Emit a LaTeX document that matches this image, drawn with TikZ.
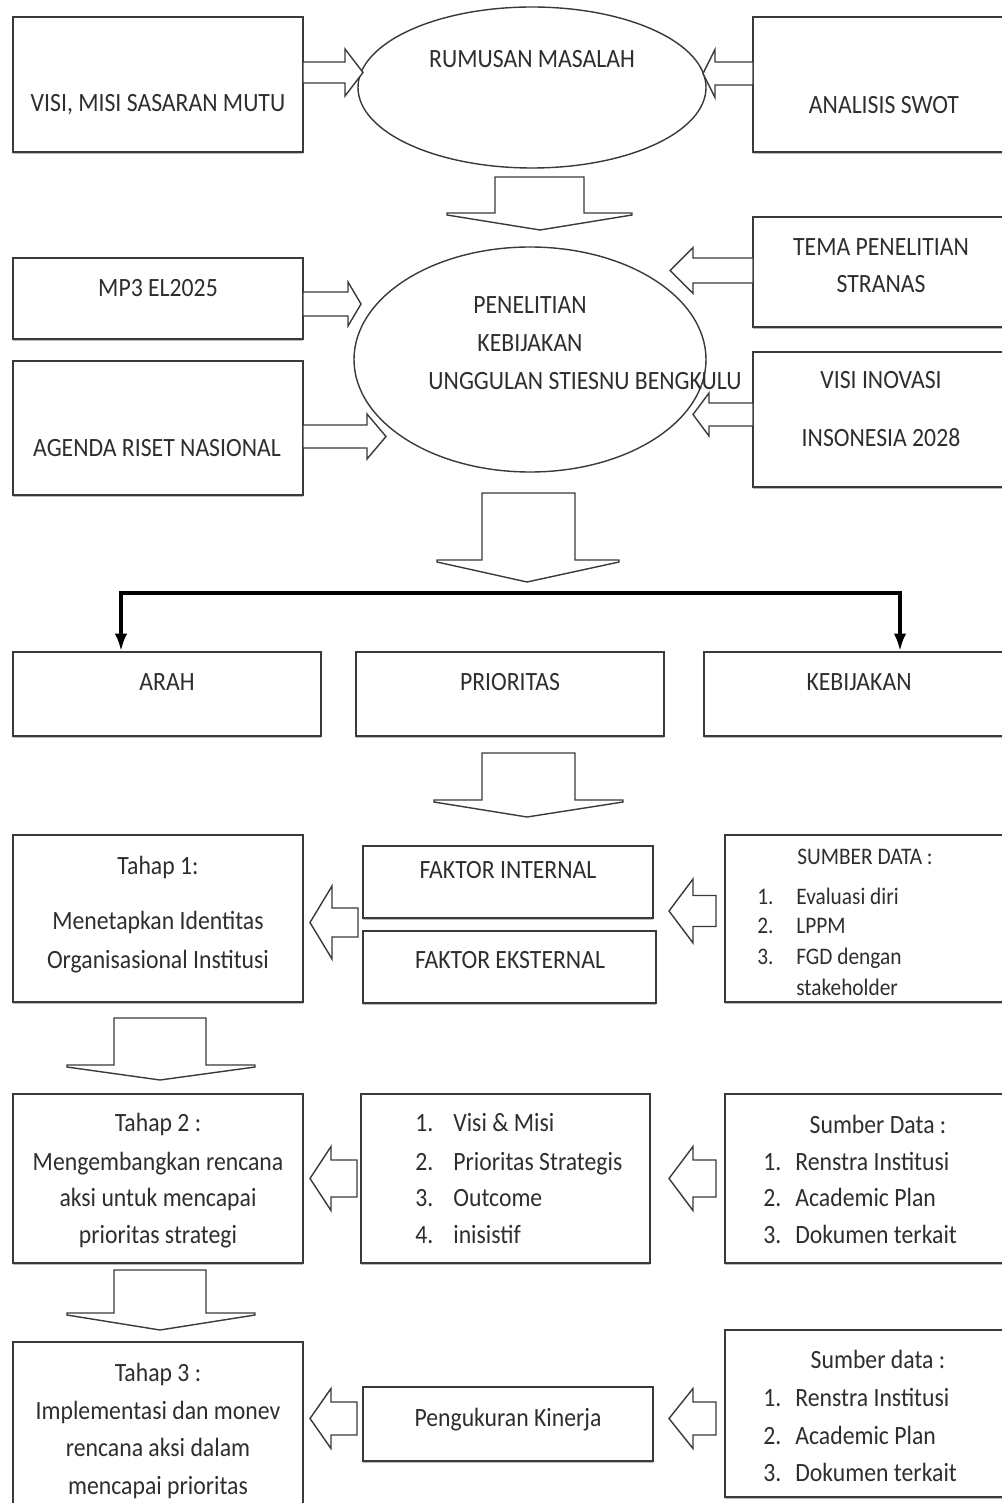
\documentclass[tikz,border=0pt]{standalone}
\usepackage{fontspec}
\setmainfont{Carlito}[FakeStretch=0.9]
\usetikzlibrary{arrows.meta,shapes.geometric,fit,shadows}
\definecolor{ln}{HTML}{3A3A3A}
\definecolor{tx}{HTML}{2E2E2E}
\tikzset{
  box/.style={draw=ln, line width=0.8pt, fill=white, inner sep=0pt,
    drop shadow={shadow xshift=0pt, shadow yshift=-1.3pt, opacity=0.55, fill=gray}},
  oval/.style={draw=ln, line width=0.8pt, fill=white, ellipse, inner sep=0pt},
  barrow/.style={draw=ln, line width=0.8pt, fill=white, line join=miter},
  txt/.style={font=\fontsize{15}{18}\selectfont, text=tx, inner sep=0pt},
  stxt/.style={font=\fontsize{13.5}{16}\selectfont, text=tx, inner sep=0pt},
  bracketline/.style={draw=black, line width=2.3pt, {Latex[length=10pt,width=7pt]}-{Latex[length=10pt,width=7pt]}}
}
\newcommand\blockH[6]{% tail, base, tip, cy, h, H
  \draw[barrow] (#1,#4-#5) -- (#2,#4-#5) -- (#2,#4-#6) -- (#3,#4) -- (#2,#4+#6) -- (#2,#4+#5) -- (#1,#4+#5) -- cycle;}
\newcommand\blockV[8]{% xl, xr, top, hb, wl, wr, xc, tipy
  \draw[barrow] (#1,#3) -- (#2,#3) -- (#2,#4) -- (#6,#4) -- (#6,#4+2) -- (#7,#8) -- (#5,#4+2) -- (#5,#4) -- (#1,#4) -- cycle;}
\begin{document}
\begin{tikzpicture}[x=0.02cm,y=-0.02cm]
\useasboundingbox (0,0) rectangle (1001,1503);
\fill[white] (0,0) rectangle (1001,1503);

% ---- boxes
\node[box, fit={(13,17) (303,152)}] (visi) {};
\node[box, fit={(753,17) (1012,152)}] (swot) {};
\node[box, fit={(13,258) (303,339)}] (mp3) {};
\node[box, fit={(13,361) (303,495)}] (agenda) {};
\node[box, fit={(753,217) (1012,327)}] (tema) {};
\node[box, fit={(753,352) (1012,487)}] (inov) {};
\node[box, fit={(13,652) (321,736)}] (arah) {};
\node[box, fit={(356,652) (664,736)}] (prio) {};
\node[box, fit={(704,652) (1012,736)}] (kebij) {};
\node[box, fit={(13,835) (303,1002)}] (tahap1) {};
\node[box, fit={(363,846) (653,918)}] (fint) {};
\node[box, fit={(363,931) (656,1003)}] (fext) {};
\node[box, fit={(725,835) (1012,1002)}] (sd1) {};
\node[box, fit={(13,1094) (303,1263)}] (tahap2) {};
\node[box, fit={(361,1094) (650,1263)}] (list) {};
\node[box, fit={(725,1094) (1012,1263)}] (sd2) {};
\node[box, fit={(13,1342) (303,1525)}] (tahap3) {};
\node[box, fit={(363,1387) (653,1461)}] (peng) {};
\node[box, fit={(725,1330) (1012,1497)}] (sd3) {};

% ---- ellipses
\node[oval, minimum width=348*0.02cm, minimum height=161*0.02cm] (rumusan) at (532,87.5) {};
\node[oval, minimum width=352*0.02cm, minimum height=225*0.02cm] (penelitian) at (530,359.5) {};

% ---- block arrows (horizontal)
\blockH{303}{345}{363}{72.5}{10.5}{23.5}
\blockH{753}{715}{703}{73.5}{11.5}{24}
\blockH{303}{348}{361}{304}{12}{22}
\blockH{303}{367}{386}{436.5}{11.5}{22.5}
\blockH{753}{693}{670}{270.5}{12.5}{23}
\blockH{753}{709}{693}{414.5}{11.5}{21.5}
\blockH{358}{332}{310}{922.5}{14.5}{36.5}
\blockH{716}{693}{669}{911}{15.5}{32}
\blockH{357}{331}{310}{1178.5}{18.5}{32}
\blockH{716}{693}{669}{1178.5}{18.5}{32}
\blockH{357}{331}{310}{1418.5}{16.5}{30}
\blockH{716}{693}{669}{1418.5}{16.5}{30}

% ---- block arrows (down)
\blockV{495}{584}{177}{213}{447}{632}{540}{230}
\blockV{482}{575}{493}{560}{437}{619}{527}{582}
\blockV{482}{575}{753}{800}{434}{623}{527}{817}
\blockV{114}{206}{1018}{1065}{67}{255}{160}{1080}
\blockV{114}{206}{1270}{1313}{67}{255}{160}{1330}

% ---- bracket connector
\coordinate (brL) at (121,593);
\coordinate (brR) at (900,593);
\draw[bracketline] (brL |- arah.north) -- (brL) -- (brR) -- (brR |- kebij.north);

% ---- texts
\node[txt, anchor=base] (tvisi) at (158,112) {VISI, MISI SASARAN MUTU};
\node[txt, anchor=base] (trum) at (532,68) {RUMUSAN MASALAH};
\node[txt, anchor=base] (tswot) at (884,114) {ANALISIS SWOT};
\node[txt, anchor=base] (tmp3) at (158,297) {MP3 EL2025};
\node[txt, anchor=base] (tagenda) at (157,456) {AGENDA RISET NASIONAL};
\node[txt, anchor=base] (tpen1) at (530,314) {PENELITIAN};
\node[txt, anchor=base] (tpen2) at (530,352) {KEBIJAKAN};
\node[txt, anchor=base] (tpen3) at (585,390) {UNGGULAN STIESNU BENGKULU};
\node[txt, anchor=base] (ttema1) at (881,256) {TEMA PENELITIAN};
\node[txt, anchor=base] (ttema2) at (881,293) {STRANAS};
\node[txt, anchor=base] (tinov1) at (881,389) {VISI INOVASI};
\node[txt, anchor=base] (tinov2) at (881,446) {INSONESIA 2028};
\node[txt, anchor=base] (tarah) at (167,690) {ARAH};
\node[txt, anchor=base] (tprio) at (510,690) {PRIORITAS};
\node[txt, anchor=base] (tkebij) at (859,690) {KEBIJAKAN};

\node[txt, anchor=base] (th1a) at (158,874) {Tahap 1:};
\node[txt, anchor=base] (th1b) at (158,929) {Menetapkan Identitas};
\node[txt, anchor=base] (th1c) at (158,968) {Organisasional Institusi};
\node[txt, anchor=base] (tfint) at (508,878) {FAKTOR INTERNAL};
\node[txt, anchor=base] (tfext) at (510,968) {FAKTOR EKSTERNAL};
\node[stxt, anchor=base west] (ts1h) at (797,864) {SUMBER DATA :};
\node[stxt, anchor=base west] (ts1n1) at (757,904) {1.};
\node[stxt, anchor=base west] (ts1i1) at (796,904) {Evaluasi diri};
\node[stxt, anchor=base west] (ts1n2) at (757,933) {2.};
\node[stxt, anchor=base west] (ts1i2) at (796,933) {LPPM};
\node[stxt, anchor=base west] (ts1n3) at (757,964) {3.};
\node[stxt, anchor=base west] (ts1i3) at (796,964) {FGD dengan};
\node[stxt, anchor=base west] (ts1i4) at (796,995) {stakeholder};

\node[txt, anchor=base] (th2a) at (158,1131) {Tahap 2 :};
\node[txt, anchor=base] (th2b) at (158,1170) {Mengembangkan rencana};
\node[txt, anchor=base] (th2c) at (158,1206) {aksi untuk mencapai};
\node[txt, anchor=base] (th2d) at (158,1243) {prioritas strategi};
\node[txt, anchor=base west] (tl1n) at (415,1131) {1.};
\node[txt, anchor=base west] (tl1) at (453,1131) {Visi \& Misi};
\node[txt, anchor=base west] (tl2n) at (415,1170) {2.};
\node[txt, anchor=base west] (tl2) at (453,1170) {Prioritas Strategis};
\node[txt, anchor=base west] (tl3n) at (415,1206) {3.};
\node[txt, anchor=base west] (tl3) at (453,1206) {Outcome};
\node[txt, anchor=base west] (tl4n) at (415,1243) {4.};
\node[txt, anchor=base west] (tl4) at (453,1243) {inisistif};
\node[txt, anchor=base] (ts2h) at (878,1133) {Sumber Data :};
\node[txt, anchor=base west] (ts2n1) at (763,1170) {1.};
\node[txt, anchor=base west] (ts2i1) at (795,1170) {Renstra Institusi};
\node[txt, anchor=base west] (ts2n2) at (763,1206) {2.};
\node[txt, anchor=base west] (ts2i2) at (795,1206) {Academic Plan};
\node[txt, anchor=base west] (ts2n3) at (763,1243) {3.};
\node[txt, anchor=base west] (ts2i3) at (795,1243) {Dokumen terkait};

\node[txt, anchor=base] (th3a) at (158,1381) {Tahap 3 :};
\node[txt, anchor=base] (th3b) at (158,1419) {Implementasi dan monev};
\node[txt, anchor=base] (th3c) at (158,1456) {rencana aksi dalam};
\node[txt, anchor=base] (th3d) at (158,1494) {mencapai prioritas};
\node[txt, anchor=base] (tpeng) at (508,1426) {Pengukuran Kinerja};
\node[txt, anchor=base] (ts3h) at (878,1368) {Sumber data :};
\node[txt, anchor=base west] (ts3n1) at (763,1406) {1.};
\node[txt, anchor=base west] (ts3i1) at (795,1406) {Renstra Institusi};
\node[txt, anchor=base west] (ts3n2) at (763,1444) {2.};
\node[txt, anchor=base west] (ts3i2) at (795,1444) {Academic Plan};
\node[txt, anchor=base west] (ts3n3) at (763,1481) {3.};
\node[txt, anchor=base west] (ts3i3) at (795,1481) {Dokumen terkait};
\end{tikzpicture}
\end{document}
